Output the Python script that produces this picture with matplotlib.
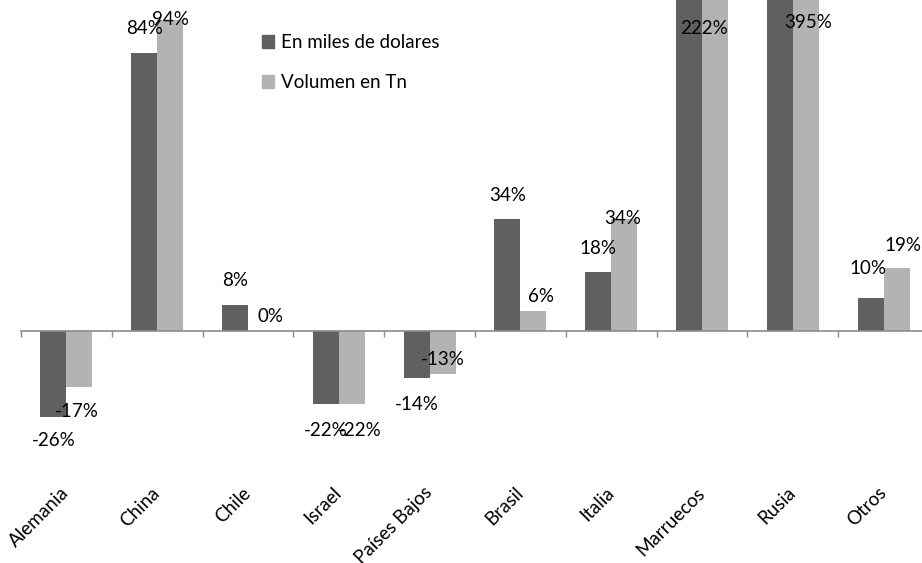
"""Variación interanual de importaciones por país de origen."""

import matplotlib
matplotlib.use("Agg")
import matplotlib.pyplot as plt
import matplotlib.transforms as mtransforms
from matplotlib.patches import Patch
import numpy as np

paises = ["Alemania", "China", "Chile", "Israel", "Países Bajos",
          "Brasil", "Italia", "Marruecos", "Rusia", "Otros"]
dolares = [-26, 84, 8, -22, -14, 34, 18, 222, 395, 10]
volumen = [-17, 94, 0, -22, -13, 6, 34, 222, 395, 19]
# labels that are visible in the chart (the clipped dark bars show none)
etq_dolares = ["-26%", "84%", "8%", "-22%", "-14%", "34%", "18%", "", "", "10%"]
etq_volumen = ["-17%", "94%", "0%", "-22%", "-13%", "6%", "34%", "222%", "395%", "19%"]

# label nudges in pixels (dx, dy), as placed in the original
off_dol = [(0, -23), (0, 24), (0, 24), (0, -26), (0, -27),
           (0, 23), (0, 23), (0, 0), (0, 0), (-3, 30)]
off_vol = [(-3, -24), (0, 0), (10, 15), (8, -26), (0, 15),
           (8, 15), (-2, 0), (-11, -29), (2, -22), (6, 23)]

OSCURO = "#606060"
CLARO = "#b3b3b3"
GRIS = "#8c8c8c"
FUENTE = ["Lato", "DejaVu Sans"]

plt.rcParams["font.family"] = FUENTE

fig = plt.figure(figsize=(9.22, 5.63), dpi=100, facecolor="white")
ax = fig.add_axes([21 / 922, 1 - 430.5 / 563, 908 / 922, 430.5 / 563])

x = np.arange(len(paises))
w = 1 / 3.5
ax.bar(x - w / 2, dolares, w, color=OSCURO)
ax.bar(x + w / 2, volumen, w, color=CLARO)

ymin, ymax = -30, 100
ax.set_xlim(-0.5, len(paises) - 0.5)
ax.set_ylim(ymin, ymax)

for serie, etqs, offs, dx0 in ((dolares, etq_dolares, off_dol, -w / 2),
                                (volumen, etq_volumen, off_vol, w / 2)):
    for i, (v, t, o) in enumerate(zip(serie, etqs, offs)):
        if not t:
            continue
        yv = min(v, ymax)
        ax.annotate(t, xy=(i + dx0, yv), xytext=o, textcoords="offset pixels",
                    ha="center", va="center", fontsize=13.5, color="black",
                    annotation_clip=False)

# category axis at zero, ticks between categories
for s in ("top", "right", "left"):
    ax.spines[s].set_visible(False)
ax.spines["bottom"].set_position(("data", 0))
ax.spines["bottom"].set_color(GRIS)
ax.spines["bottom"].set_linewidth(1.2)
ax.set_zorder(1)
ax.set_xticks(np.arange(len(paises) + 1) - 0.5)
ax.set_xticklabels([])
ax.tick_params(axis="x", direction="out", length=4.5, width=1.0, color=GRIS)
ax.set_yticks([])

# category names placed low, under the plot
trans = mtransforms.blended_transform_factory(ax.transData, fig.transFigure)
for i, p in enumerate(paises):
    ax.text(i, 1 - 490 / 563, p, transform=trans, rotation=45,
            rotation_mode="anchor", ha="right", va="center", fontsize=13.5)

handles = [Patch(color=OSCURO), Patch(color=CLARO)]
fig.legend(handles, ["En miles de dolares", "Volumen en Tn"],
           loc="upper left", bbox_to_anchor=(262 / 922, 1 - 34 / 563),
           frameon=False, fontsize=13.5, handlelength=0.65, handleheight=0.65,
           handletextpad=0.35, labelspacing=1.22, borderpad=0, borderaxespad=0)

fig.savefig("out.png", dpi=100, facecolor="white")
